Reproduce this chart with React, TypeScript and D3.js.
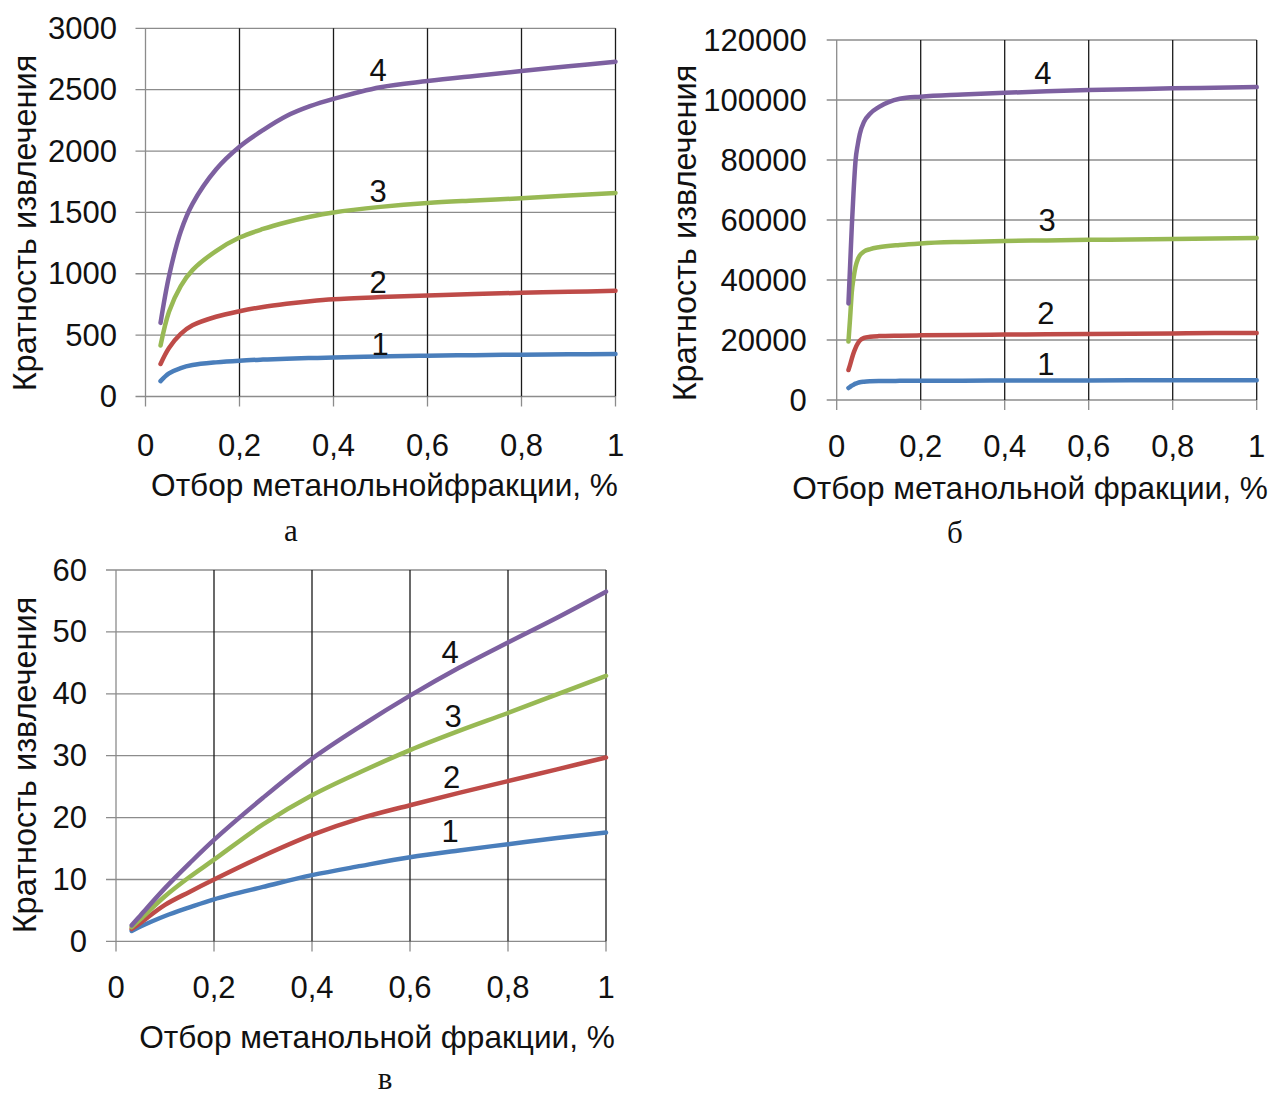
import * as d3 from 'd3';

// x values (fraction of methanol cut) for each panel
const xA = [0.032, 0.05, 0.075, 0.1, 0.15, 0.2, 0.25, 0.3, 0.35, 0.4, 0.5, 0.6, 0.7, 0.8, 0.9, 1];
const a1 = [125, 188, 232, 256, 278, 292, 301, 308, 313, 318, 326, 332, 337, 341, 344, 347];
const a2 = [265, 395, 510, 580, 650, 695, 730, 756, 777, 793, 810, 823, 835, 845, 853, 861];
const a3 = [415, 690, 900, 1030, 1185, 1295, 1365, 1420, 1465, 1500, 1545, 1577, 1597, 1615, 1637, 1659];
const a4 = [600, 980, 1345, 1570, 1850, 2035, 2170, 2285, 2365, 2425, 2520, 2570, 2612, 2652, 2690, 2728];

const xB = [0.028, 0.032, 0.036, 0.04, 0.045, 0.05, 0.055, 0.065, 0.08, 0.1, 0.15, 0.2, 0.3, 0.4, 0.5, 0.6, 0.7, 0.8, 0.9, 1];
const b1 = [4000, 4400, 4800, 5100, 5450, 5700, 5900, 6100, 6250, 6330, 6380, 6400, 6450, 6480, 6510, 6540, 6560, 6580, 6590, 6600];
const b2 = [10000, 11800, 13800, 15600, 17400, 18800, 19800, 20700, 21100, 21300, 21450, 21550, 21700, 21800, 21900, 22000, 22100, 22200, 22300, 22350];
const b3 = [19500, 27500, 36000, 40500, 44500, 46800, 48200, 49500, 50300, 50900, 51700, 52200, 52700, 53000, 53200, 53400, 53500, 53700, 53800, 54000];
const b4 = [32200, 45000, 58000, 69000, 80000, 85000, 88700, 92700, 95500, 97600, 100400, 101100, 101800, 102400, 102900, 103300, 103600, 103900, 104100, 104300];

const xC = [0.032, 0.05, 0.1, 0.15, 0.2, 0.3, 0.4, 0.5, 0.6, 0.7, 0.8, 0.9, 1];
const c1 = [1.7, 2.4, 4.1, 5.5, 6.8, 8.8, 10.7, 12.2, 13.6, 14.7, 15.7, 16.7, 17.6];
const c2 = [2.0, 3.0, 5.9, 8.0, 10.0, 13.8, 17.2, 19.9, 22.0, 24.0, 25.9, 27.8, 29.7];
const c3 = [2.3, 3.6, 7.3, 10.4, 13.2, 18.9, 23.6, 27.4, 30.9, 34.0, 36.9, 39.9, 42.9];
const c4 = [2.6, 4.2, 8.6, 12.6, 16.4, 23.2, 29.5, 34.8, 39.7, 44.2, 48.3, 52.3, 56.5];

const xTicks = [0, 0.2, 0.4, 0.6, 0.8, 1];
const xTickLabels = ['0', '0,2', '0,4', '0,6', '0,8', '1'];
const curveNames = ['1', '2', '3', '4'];
const colors = ['#4a7ebb', '#be4b48', '#98b954', '#7d60a0'];

// label anchors in data units [x, y] for curves 1..4
const labelsA = [[0.499, 420], [0.495, 927], [0.495, 1669], [0.495, 2657]];
const labelsB = [[0.498, 11830], [0.498, 29000], [0.501, 60000], [0.491, 108800]];
const labelsC = [[0.682, 17.7], [0.685, 26.4], [0.688, 36.3], [0.682, 46.6]];

const yTitle = 'Кратность извлечения';
const font = '"Liberation Sans", Arial, sans-serif';

type PanelProps = {
  xs: number[];
  series: number[][];
  labels: number[][];
  yMax: number;
  yStep: number;
  px: [number, number];
  py: [number, number];
  yLabelRight: number;
  xLabelY: number;
  xTitle: string;
  xTitlePos: [number, number];
  yTitlePos: [number, number];
  sub: string;
  subPos: [number, number];
  curve: d3.CurveFactory;
};

function Panel(p: PanelProps) {
  const x = d3.scaleLinear().domain([0, 1]).range(p.px);
  const y = d3.scaleLinear().domain([0, p.yMax]).range(p.py);
  const yTicks = d3.range(0, p.yMax + p.yStep / 2, p.yStep);
  const line = d3.line<number>()
    .x((_, i) => x(p.xs[i]))
    .y(d => y(d))
    .curve(p.curve);

  return (
    <g>
      {yTicks.map(t => (
        <g key={'h' + t}>
          <line x1={p.px[0] - 10} x2={p.px[1]} y1={y(t)} y2={y(t)} stroke="#8c8c8c" strokeWidth={1.3} />
          <text x={p.yLabelRight} y={y(t)} textAnchor="end" dominantBaseline="central"
            fontSize={31} fontFamily={font} fill="#111">{t}</text>
        </g>
      ))}
      {xTicks.map((t, i) => (
        <g key={'v' + t}>
          {i > 0 && <line x1={x(t)} x2={x(t)} y1={p.py[1]} y2={p.py[0]} stroke="#1a1a1a" strokeWidth={1.3} />}
          <line x1={x(t)} x2={x(t)} y1={p.py[0]} y2={p.py[0] + 10} stroke="#8c8c8c" strokeWidth={1.3} />
          <text x={x(t)} y={p.xLabelY} textAnchor="middle" dominantBaseline="central"
            fontSize={31} fontFamily={font} fill="#111">{xTickLabels[i]}</text>
        </g>
      ))}
      <line x1={p.px[0]} x2={p.px[0]} y1={p.py[1]} y2={p.py[0]} stroke="#8c8c8c" strokeWidth={1.3} />
      {p.series.map((s, i) => (
        <path key={'s' + i} d={line(s) || ''} fill="none" stroke={colors[i]} strokeWidth={4.5} strokeLinecap="round" />
      ))}
      {p.labels.map((l, i) => (
        <text key={'l' + i} x={x(l[0])} y={y(l[1])} textAnchor="middle" dominantBaseline="central"
          fontSize={31} fontFamily={font} fill="#111">{curveNames[i]}</text>
      ))}
      <text x={p.xTitlePos[0]} y={p.xTitlePos[1]} textAnchor="middle" dominantBaseline="central"
        fontSize={31.6} fontFamily={font} fill="#111">{p.xTitle}</text>
      <text transform={`translate(${p.yTitlePos[0]},${p.yTitlePos[1]}) rotate(-90)`} textAnchor="middle"
        dominantBaseline="central" fontSize={32.5} fontFamily={font} fill="#111">{yTitle}</text>
      <text x={p.subPos[0]} y={p.subPos[1]} textAnchor="middle"
        fontSize={31} fontFamily='"Liberation Serif", "Times New Roman", serif' fill="#111">{p.sub}</text>
    </g>
  );
}

export default function App() {
  return (
    <svg width={1272} height={1095} style={{ position: 'absolute', left: 0, top: 0, background: '#fff' }}>
      <Panel xs={xA} series={[a1, a2, a3, a4]} labels={labelsA} yMax={3000} yStep={500}
        px={[145.5, 615.5]} py={[396.5, 28.3]} yLabelRight={117} xLabelY={445}
        xTitle="Отбор метанольнойфракции, %" xTitlePos={[384.5, 485]} yTitlePos={[25, 223]}
        sub="а" subPos={[291, 541]} curve={d3.curveCatmullRom.alpha(0.5)} />
      <Panel xs={xB} series={[b1, b2, b3, b4]} labels={labelsB} yMax={120000} yStep={20000}
        px={[836.7, 1256.7]} py={[400, 40]} yLabelRight={806.7} xLabelY={446}
        xTitle="Отбор метанольной фракции, %" xTitlePos={[1030, 488]} yTitlePos={[685, 233]}
        sub="б" subPos={[955, 543]} curve={d3.curveMonotoneX} />
      <Panel xs={xC} series={[c1, c2, c3, c4]} labels={labelsC} yMax={60} yStep={10}
        px={[116, 606]} py={[941.4, 570]} yLabelRight={87} xLabelY={987}
        xTitle="Отбор метанольной фракции, %" xTitlePos={[377, 1037]} yTitlePos={[25, 765]}
        sub="в" subPos={[385, 1089]} curve={d3.curveCatmullRom.alpha(0.5)} />
    </svg>
  );
}
